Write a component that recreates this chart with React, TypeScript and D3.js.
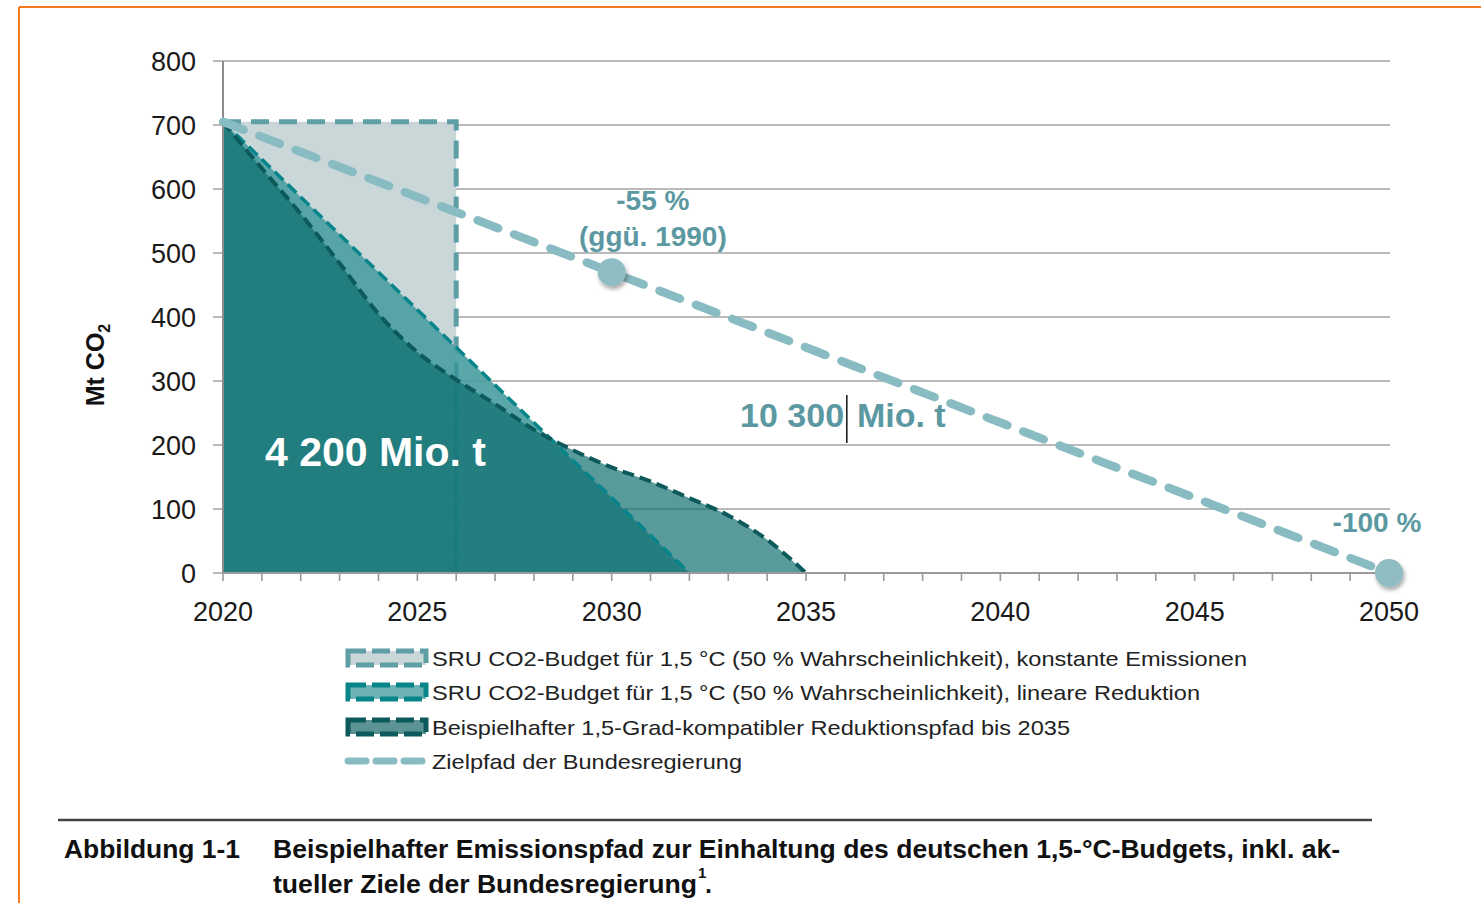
import React from 'react';
import * as d3 from 'd3';

const width = 1481;
const height = 903;
const FONT = 'Liberation Sans, Arial, Helvetica, sans-serif';

// ---- data ----
const yTicks = [0, 100, 200, 300, 400, 500, 600, 700, 800];
const xLabels = [2020, 2025, 2030, 2035, 2040, 2045, 2050];
const tickYears = [
  2020, 2021, 2022, 2023, 2024, 2025, 2026, 2027, 2028, 2029, 2030,
  2031, 2032, 2033, 2034, 2035, 2036, 2037, 2038, 2039, 2040,
  2041, 2042, 2043, 2044, 2045, 2046, 2047, 2048, 2049, 2050,
];

// constant emissions budget (SRU)
const constantYears = [2020, 2026];
const constantValues = [705, 705];

// linear reduction budget (SRU)
const linearYears = [2020, 2032];
const linearValues = [705, 0];

// example 1.5-degree compatible path until 2035
const pathYears = [2020, 2021, 2022, 2023, 2024, 2025, 2026, 2027, 2028, 2029, 2030, 2031, 2032, 2033, 2034, 2035];
const pathValues = [705, 632, 561, 484, 405, 345, 302, 264, 224, 192, 165, 143, 117, 90, 52, 0];

// government target path
const targetYears = [2020, 2030, 2050];
const targetValues = [705, 470, 0];
const markerYears = [2030, 2050];
const markerValues = [470, 0];

const legendLabels = [
  'SRU CO2-Budget für 1,5 °C (50 % Wahrscheinlichkeit), konstante Emissionen',
  'SRU CO2-Budget für 1,5 °C (50 % Wahrscheinlichkeit), lineare Reduktion',
  'Beispielhafter 1,5-Grad-kompatibler Reduktionspfad bis 2035',
  'Zielpfad der Bundesregierung',
];
const legendWidths = [815, 768, 638, 310];

const zip = (xs: number[], ys: number[]): [number, number][] => xs.map((x, i) => [x, ys[i]]);

// colours
const cRectFill = '#c9d7d9';
const cRectStroke = '#5f9ea4';
const cLinFill = '#4ea0a4';
const cLinStroke = '#08858a';
const cPathFill = '#0a6a6c';
const cPathStroke = '#0d5a5c';
const cTarget = '#89bcc2';
const cLabel = '#5b98a1';

const x = d3.scaleLinear().domain([2020, 2050]).range([223, 1389]);
const y = d3.scaleLinear().domain([0, 800]).range([573, 61]);

const area = d3
  .area<[number, number]>()
  .x(d => x(d[0]))
  .y0(y(0))
  .y1(d => y(d[1]));
const smoothArea = d3
  .area<[number, number]>()
  .x(d => x(d[0]))
  .y0(y(0))
  .y1(d => y(d[1]))
  .curve(d3.curveMonotoneX);
const line = d3
  .line<[number, number]>()
  .x(d => x(d[0]))
  .y(d => y(d[1]));
const smoothLine = d3
  .line<[number, number]>()
  .x(d => x(d[0]))
  .y(d => y(d[1]))
  .curve(d3.curveMonotoneX);

const Legend = () => {
  const lx = 348;
  const rows = [658, 692, 727, 761];
  return (
    <g fontFamily={FONT} fontSize={21} fill="#222">
      <rect x={lx} y={rows[0] - 7} width={78} height={14} fill={cRectFill} stroke={cRectStroke} strokeWidth={5} strokeDasharray="18 6" />
      <rect x={lx} y={rows[1] - 7} width={78} height={14} fill="#6db3b6" stroke={cLinStroke} strokeWidth={5} strokeDasharray="18 6" />
      <rect x={lx} y={rows[2] - 7} width={78} height={14} fill="#5b9394" stroke={cPathStroke} strokeWidth={5} strokeDasharray="18 6" />
      <line x1={lx} x2={lx + 80} y1={rows[3]} y2={rows[3]} stroke={cTarget} strokeWidth={7} strokeDasharray="18 10" strokeLinecap="round" />
      {legendLabels.map((t, i) => (
        <text key={t} x={432} y={rows[i]} dy="0.36em" textLength={legendWidths[i]} lengthAdjust="spacingAndGlyphs">
          {t}
        </text>
      ))}
    </g>
  );
};

const App = () => {
  const constant = zip(constantYears, constantValues);
  const constantEdge: [number, number][] = [...constant, [constantYears[1], 0]];
  const linear = zip(linearYears, linearValues);
  const path = zip(pathYears, pathValues);
  const target = zip(targetYears, targetValues);
  const markers = zip(markerYears, markerValues);

  return (
    <svg width={width} height={height} style={{ position: 'absolute', left: 0, top: 0, background: '#fff' }}>
      <defs>
        <filter id="shadow" x="-50%" y="-50%" width="200%" height="200%">
          <feDropShadow dx={1.5} dy={3} stdDeviation={2} floodColor="#000" floodOpacity={0.35} />
        </filter>
      </defs>

      {/* orange frame */}
      <line x1={19} x2={width} y1={7} y2={7} stroke="#f47b20" strokeWidth={2} />
      <line x1={19} x2={19} y1={7} y2={height} stroke="#f47b20" strokeWidth={2} />

      {/* grid + y ticks */}
      {yTicks.map(t => (
        <g key={t}>
          <line x1={213} x2={1390} y1={y(t)} y2={y(t)} stroke="#a3a3a3" strokeWidth={1.6} />
          <text x={196} y={y(t)} dy="0.36em" textAnchor="end" fontFamily={FONT} fontSize={27} fill="#1a1a1a">
            {t}
          </text>
        </g>
      ))}

      {/* budget areas */}
      <path d={area(constant) ?? ''} fill={cRectFill} />
      <path d={line(constantEdge) ?? ''} fill="none" stroke={cRectStroke} strokeWidth={5} strokeDasharray="18 10" />
      <path d={area(linear) ?? ''} fill={cLinFill} fillOpacity={0.93} />
      <path d={smoothArea(path) ?? ''} fill={cPathFill} fillOpacity={0.68} />
      <line x1={x(2026)} x2={x(2026)} y1={y(0)} y2={y(330)} stroke="#0c7a80" strokeOpacity={0.3} strokeWidth={4} />
      <path d={line(linear) ?? ''} fill="none" stroke={cLinStroke} strokeWidth={3.5} strokeDasharray="12 6" />
      <path d={smoothLine(path) ?? ''} fill="none" stroke={cPathStroke} strokeWidth={4} strokeDasharray="12 6" />

      {/* axes */}
      <line x1={x(2020)} x2={x(2020)} y1={y(800)} y2={y(0)} stroke="#8c8c8c" strokeWidth={2} />
      <line x1={x(2020)} x2={1390} y1={y(0)} y2={y(0)} stroke="#9a9a9a" strokeWidth={2} />
      {tickYears.map(t => (
        <line key={t} x1={x(t)} x2={x(t)} y1={y(0)} y2={y(0) + 8} stroke="#9a9a9a" strokeWidth={1.6} />
      ))}
      {xLabels.map(t => (
        <text key={t} x={x(t)} y={611} dy="0.36em" textAnchor="middle" fontFamily={FONT} fontSize={27} fill="#1a1a1a">
          {t}
        </text>
      ))}

      {/* target path */}
      <path d={line(target) ?? ''} fill="none" stroke={cTarget} strokeWidth={8.5} strokeDasharray="22 17" strokeLinecap="round" />
      {markers.map(m => (
        <circle key={m[0]} cx={x(m[0])} cy={y(m[1])} r={14} fill="#8fbdc3" filter="url(#shadow)" />
      ))}

      {/* annotations */}
      <g fontFamily={FONT} fontWeight="bold" fill={cLabel}>
        <text x={x(2031.06)} y={y(583)} dy="0.36em" textAnchor="middle" fontSize={28}>-55 %</text>
        <text x={x(2031.06)} y={y(527)} dy="0.36em" textAnchor="middle" fontSize={28}>(ggü. 1990)</text>
        <text x={x(2049.69)} y={y(80)} dy="0.36em" textAnchor="middle" fontSize={28}>-100 %</text>
        <text x={x(2035.98)} y={y(247)} dy="0.36em" textAnchor="end" fontSize={34}>10 300</text>
        <text x={x(2036.31)} y={y(247)} dy="0.36em" textAnchor="start" fontSize={34}>Mio. t</text>
        <text x={x(2021.08)} y={y(191)} dy="0.36em" textAnchor="start" fontSize={41} fill="#fff">4 200 Mio. t</text>
      </g>
      <line x1={x(2036.05)} x2={x(2036.05)} y1={y(278)} y2={y(203)} stroke="#111" strokeWidth={1.5} />

      {/* y axis title */}
      <text transform="translate(104,365) rotate(-90)" textAnchor="middle" fontFamily={FONT} fontWeight="bold" fontSize={25} fill="#111">
        Mt CO<tspan fontSize={16} dy={6}>2</tspan>
      </text>

      <Legend />

      {/* caption */}
      <line x1={58} x2={1372} y1={820} y2={820} stroke="#444" strokeWidth={2.5} />
      <g fontFamily={FONT} fontWeight="bold" fontSize={25} fill="#111">
        <text x={64} y={858} textLength={176} lengthAdjust="spacingAndGlyphs">Abbildung 1-1</text>
        <text x={273} y={858} textLength={1067} lengthAdjust="spacingAndGlyphs">
          Beispielhafter Emissionspfad zur Einhaltung des deutschen 1,5-°C-Budgets, inkl. ak-
        </text>
        <text x={273} y={893} textLength={424} lengthAdjust="spacingAndGlyphs">tueller Ziele der Bundesregierung</text>
        <text x={698} y={878} fontSize={15}>1</text>
        <text x={705} y={893}>.</text>
      </g>
    </svg>
  );
};

export default App;
